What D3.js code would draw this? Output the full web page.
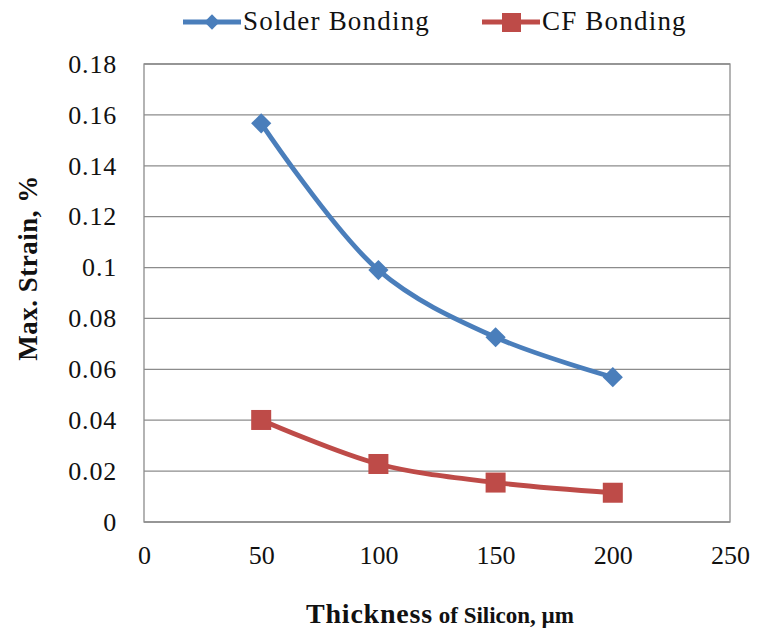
<!DOCTYPE html>
<html>
<head>
<meta charset="utf-8">
<script src="https://cdn.jsdelivr.net/npm/d3@7"></script>
<style>
  body { margin: 0; background: #fff; }
</style>
</head>
<body>
<div id="container"></div>
<script>
/* CONSTANTS AND GLOBALS */
const width = 758,
  height = 634,
  margin = { top: 64, bottom: 112, left: 144, right: 28 },
  serif = "'Liberation Serif', 'Times New Roman', serif";

// data
const thickness = [50, 100, 150, 200];
const solderStrain = [0.1567, 0.099, 0.0726, 0.0569];
const cfStrain = [0.0401, 0.0228, 0.0155, 0.0115];
const xTicks = [0, 50, 100, 150, 200, 250];
const yTicks = [0, 0.02, 0.04, 0.06, 0.08, 0.1, 0.12, 0.14, 0.16, 0.18];

const series = [
  { name: "Solder Bonding", values: solderStrain, color: "#4A7EBB", marker: "diamond" },
  { name: "CF Bonding", values: cfStrain, color: "#BE4B48", marker: "square" }
];

const svg = d3.select("#container")
  .append("svg")
  .attr("width", width)
  .attr("height", height)
  .style("font-family", serif);

/* SCALES */
const xScale = d3.scaleLinear()
  .domain([0, 250])
  .range([margin.left, width - margin.right]);

const yScale = d3.scaleLinear()
  .domain([0, 0.18])
  .range([height - margin.bottom, margin.top]);

// gridlines
svg.append("g")
  .selectAll("line")
  .data(yTicks)
  .join("line")
  .attr("x1", margin.left)
  .attr("x2", width - margin.right)
  .attr("y1", d => yScale(d))
  .attr("y2", d => yScale(d))
  .attr("stroke", "#8c8c8c")
  .attr("stroke-width", 1.3);

// plot frame
svg.append("rect")
  .attr("x", margin.left)
  .attr("y", margin.top)
  .attr("width", width - margin.right - margin.left)
  .attr("height", height - margin.bottom - margin.top)
  .attr("fill", "none")
  .attr("stroke", "#8c8c8c")
  .attr("stroke-width", 1.3);

/* Axes */
const yAxis = d3.axisLeft(yScale)
  .tickValues(yTicks)
  .tickSize(0)
  .tickPadding(27)
  .tickFormat(d => d3.format("")(+d.toFixed(2)));

svg.append("g")
  .attr("class", "y-axis")
  .attr("transform", `translate(${margin.left}, 0)`)
  .call(yAxis)
  .attr("font-family", serif)
  .attr("font-size", 26)
  .call(g => g.select(".domain").remove())
  .selectAll("text")
  .attr("fill", "#111")
  .style("letter-spacing", "0.8px");

const xAxis = d3.axisBottom(xScale)
  .tickValues(xTicks)
  .tickSize(0)
  .tickPadding(24);

svg.append("g")
  .attr("class", "x-axis")
  .attr("transform", `translate(0, ${height - margin.bottom})`)
  .call(xAxis)
  .attr("font-family", serif)
  .attr("font-size", 26)
  .call(g => g.select(".domain").remove())
  .selectAll("text")
  .attr("fill", "#111");

/* lines */
const line = d3.line()
  .x((d, i) => xScale(thickness[i]))
  .y(d => yScale(d))
  .curve(d3.curveCatmullRom.alpha(0.5));

const diamond = d3.symbol().type(d3.symbolDiamond2).size(260);

series.forEach(s => {
  svg.append("path")
    .datum(s.values)
    .attr("d", line)
    .attr("fill", "none")
    .attr("stroke", s.color)
    .attr("stroke-width", 4.8);

  const g = svg.append("g");
  if (s.marker === "diamond") {
    g.selectAll("path")
      .data(s.values)
      .join("path")
      .attr("d", diamond)
      .attr("transform", (d, i) => `translate(${xScale(thickness[i])},${yScale(d)})`)
      .attr("fill", s.color);
  } else {
    g.selectAll("rect")
      .data(s.values)
      .join("rect")
      .attr("x", (d, i) => xScale(thickness[i]) - 10)
      .attr("y", d => yScale(d) - 10)
      .attr("width", 20)
      .attr("height", 20)
      .attr("fill", s.color);
  }
});

/* legend */
const legendX = [183, 482];
series.forEach((s, i) => {
  const lg = svg.append("g").attr("transform", `translate(${legendX[i]}, 22)`);
  lg.append("line")
    .attr("x1", 0).attr("x2", 58)
    .attr("stroke", s.color)
    .attr("stroke-width", 4.8);
  if (s.marker === "diamond") {
    lg.append("path")
      .attr("d", d3.symbol().type(d3.symbolDiamond2).size(150)())
      .attr("transform", "translate(29,0)")
      .attr("fill", s.color);
  } else {
    lg.append("rect")
      .attr("x", 20).attr("y", -9).attr("width", 19).attr("height", 19)
      .attr("fill", s.color);
  }
  lg.append("text")
    .attr("x", 60)
    .attr("y", 8)
    .attr("fill", "#111")
    .style("font-size", "27px")
    .style("letter-spacing", "1.2px")
    .text(s.name);
});

/* axis titles */
svg.append("text")
  .attr("transform", `translate(37, 268) rotate(-90)`)
  .attr("text-anchor", "middle")
  .attr("fill", "#111")
  .style("font-size", "27px")
  .style("font-weight", "bold")
  .style("letter-spacing", "0.5px")
  .text("Max. Strain, %");

const xTitle = svg.append("text")
  .attr("x", 440)
  .attr("y", 623)
  .attr("text-anchor", "middle")
  .attr("fill", "#111")
  .style("font-weight", "bold");
xTitle.append("tspan").style("font-size", "28px").style("letter-spacing", "0.8px").text("Thickness");
xTitle.append("tspan").style("font-size", "23px").text(" of Silicon, µm");
</script>
</body>
</html>
